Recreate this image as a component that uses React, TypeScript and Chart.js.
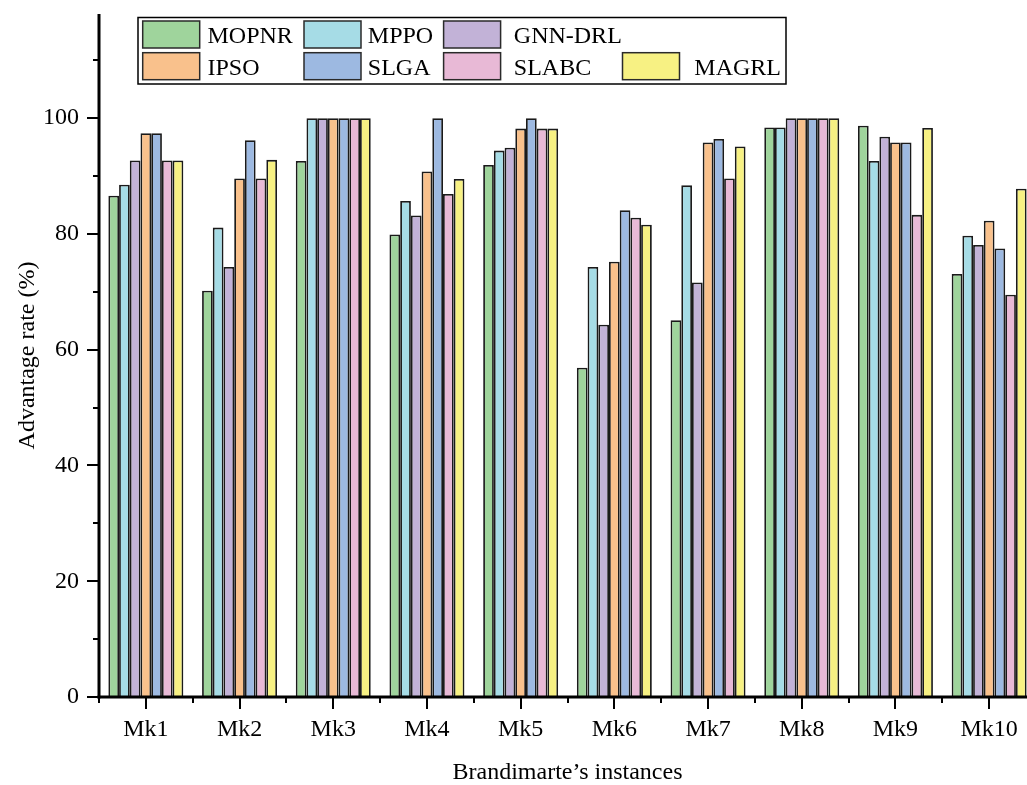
import React, { useEffect, useRef } from "react";
import { Chart, registerables } from "chart.js";

Chart.register(...registerables);

const categories = ["Mk1", "Mk2", "Mk3", "Mk4", "Mk5", "Mk6", "Mk7", "Mk8", "Mk9", "Mk10"];
const seriesNames = ["MOPNR", "MPPO", "GNN-DRL", "IPSO", "SLGA", "SLABC", "MAGRL"];
const mopnr = [86.6, 70.2, 92.6, 79.9, 91.9, 56.9, 65.1, 98.4, 98.7, 73.1];
const mppo = [88.5, 81.1, 100, 85.7, 94.4, 74.3, 88.4, 98.4, 92.6, 79.7];
const gnnDrl = [92.7, 74.3, 100, 83.2, 94.9, 64.3, 71.6, 100, 96.8, 78.1];
const ipso = [97.4, 89.6, 100, 90.8, 98.2, 75.2, 95.8, 100, 95.8, 82.3];
const slga = [97.4, 96.2, 100, 100, 100, 84.1, 96.4, 100, 95.8, 77.5];
const slabc = [92.7, 89.6, 100, 86.9, 98.2, 82.8, 89.6, 100, 83.3, 69.5];
const magrl = [92.7, 92.8, 100, 89.5, 98.2, 81.6, 95.1, 100, 98.3, 87.8];
const seriesValues = [mopnr, mppo, gnnDrl, ipso, slga, slabc, magrl];
const seriesColors = ["#9fd49c", "#a6dce6", "#c2b2d7", "#f9c18c", "#9db9e1", "#e8b9d6", "#f7f183"];
const yMajorTicks = [0, 20, 40, 60, 80, 100];
const yMinorTicks = [10, 30, 50, 70, 90, 110];

const FONT = "'Liberation Serif', 'Times New Roman', serif";

const customPlugin = {
  id: "customAxesLegend",
  afterDraw(chart: any) {
    const ctx = chart.ctx;
    const { left, right, top, bottom } = chart.chartArea;
    const x = chart.scales.x;
    const y = chart.scales.y;
    ctx.save();
    ctx.strokeStyle = "#000";
    // axis lines
    ctx.lineWidth = 3;
    ctx.beginPath();
    ctx.moveTo(left, top);
    ctx.lineTo(left, bottom + 1.5);
    ctx.stroke();
    ctx.beginPath();
    ctx.moveTo(left - 1.5, bottom);
    ctx.lineTo(right + 20, bottom);
    ctx.stroke();
    // y ticks
    ctx.lineWidth = 2;
    yMajorTicks.forEach((v) => {
      const py = Math.round(y.getPixelForValue(v));
      ctx.beginPath();
      ctx.moveTo(left - 12, py);
      ctx.lineTo(left, py);
      ctx.stroke();
    });
    yMinorTicks.forEach((v) => {
      const py = Math.round(y.getPixelForValue(v));
      ctx.beginPath();
      ctx.moveTo(left - 6, py);
      ctx.lineTo(left, py);
      ctx.stroke();
    });
    // x ticks
    const n = categories.length;
    const w = (right - left) / n;
    for (let i = 0; i < n; i++) {
      const cx = Math.round(x.getPixelForValue(i));
      ctx.beginPath();
      ctx.moveTo(cx, bottom);
      ctx.lineTo(cx, bottom + 12);
      ctx.stroke();
    }
    for (let i = 0; i <= n; i++) {
      const bx = Math.round(left + i * w);
      ctx.beginPath();
      ctx.moveTo(bx, bottom);
      ctx.lineTo(bx, bottom + 6);
      ctx.stroke();
    }
    // legend
    const frame = { x: 138, y: 17.5, w: 648, h: 66.5 };
    ctx.lineWidth = 1.5;
    ctx.strokeStyle = "#000";
    ctx.strokeRect(frame.x, frame.y, frame.w, frame.h);
    const boxX = [142.7, 304, 443.6, 622.5];
    const textX = [207.5, 367.8, 513.8, 694.3];
    const rowTop = [21, 52.7];
    ctx.font = `24px ${FONT}`;
    ctx.textBaseline = "alphabetic";
    ctx.textAlign = "left";
    chart.data.datasets.forEach((ds: any, i: number) => {
      const row = i < 3 ? 0 : 1;
      const col = i < 3 ? i : i - 3;
      ctx.fillStyle = ds.backgroundColor;
      ctx.fillRect(boxX[col], rowTop[row], 57, 27);
      ctx.strokeStyle = "#2a2a2a";
      ctx.lineWidth = 1.5;
      ctx.strokeRect(boxX[col], rowTop[row], 57, 27);
      ctx.fillStyle = "#000";
      ctx.fillText(ds.label, textX[col], rowTop[row] + 22);
    });
    ctx.restore();
  },
};

export default function App() {
  const ref = useRef<HTMLCanvasElement>(null);
  useEffect(() => {
    if (!ref.current) return;
    const chart = new Chart(ref.current, {
      type: "bar",
      data: {
        labels: categories,
        datasets: seriesNames.map((name, i) => ({
          label: name,
          data: seriesValues[i],
          backgroundColor: seriesColors[i],
          borderColor: "#1a1a1a",
          borderWidth: 1.8,
          categoryPercentage: 0.8,
          barPercentage: 1,
        })),
      },
      options: {
        responsive: false,
        animation: false,
        devicePixelRatio: 1,
        layout: { padding: { top: 14, right: 14, left: 0, bottom: 0 } },
        plugins: { legend: { display: false }, tooltip: { enabled: false } },
        scales: {
          x: {
            grid: { display: false, drawTicks: false },
            border: { display: false },
            ticks: { color: "#000", font: { family: FONT, size: 24 }, padding: 18, maxRotation: 0, autoSkip: false },
            title: {
              display: true,
              text: "Brandimarte’s instances",
              color: "#000",
              font: { family: FONT, size: 24, lineHeight: 1 },
              padding: { top: 0, bottom: 0 },
            },
            afterFit: (scale: any) => {
              scale.height = 88;
              scale.paddingLeft = 0;
              scale.paddingRight = 0;
            },
          },
          y: {
            min: 0,
            max: 118,
            grid: { display: false, drawTicks: false },
            border: { display: false },
            ticks: { color: "#000", font: { family: FONT, size: 24 }, padding: 20 },
            afterBuildTicks: (scale: any) => {
              scale.ticks = yMajorTicks.map((v) => ({ value: v }));
            },
            title: {
              display: true,
              text: "Advantage rate (%)",
              color: "#000",
              font: { family: FONT, size: 24, lineHeight: 1 },
              padding: { top: 16, bottom: 0 },
            },
            afterFit: (scale: any) => {
              scale.width = 99;
              scale.paddingTop = 0;
              scale.paddingBottom = 0;
            },
          },
        },
      },
      plugins: [customPlugin],
    });
    return () => chart.destroy();
  }, []);
  return (
    <div style={{ position: "fixed", left: 0, top: 0, width: 1027, height: 785, overflow: "hidden", background: "#fff" }}>
      <canvas ref={ref} width={1050} height={785} style={{ display: "block" }} />
    </div>
  );
}
